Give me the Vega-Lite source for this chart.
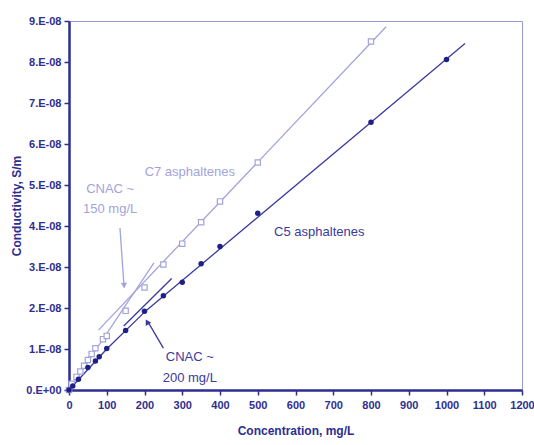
{
  "$schema": "https://vega.github.io/schema/vega-lite/v6.json",
  "width": 453,
  "height": 369,
  "autosize": {"type": "none"},
  "padding": {"left": 69, "top": 21, "right": 12, "bottom": 55},
  "background": "white",
  "config": {
    "view": {"stroke": "#9a9ad8", "strokeWidth": 1},
    "font": "Liberation Sans"
  },
  "datasets": {
    "pts": [
      {"series": "C5", "x": 0, "y": 0},
      {"series": "C5", "x": 10, "y": 0.1e-8},
      {"series": "C5", "x": 25, "y": 0.26e-8},
      {"series": "C5", "x": 50, "y": 0.55e-8},
      {"series": "C5", "x": 70, "y": 0.71e-8},
      {"series": "C5", "x": 80, "y": 0.81e-8},
      {"series": "C5", "x": 100, "y": 1.01e-8},
      {"series": "C5", "x": 150, "y": 1.45e-8},
      {"series": "C5", "x": 200, "y": 1.92e-8},
      {"series": "C5", "x": 250, "y": 2.30e-8},
      {"series": "C5", "x": 300, "y": 2.63e-8},
      {"series": "C5", "x": 350, "y": 3.08e-8},
      {"series": "C5", "x": 400, "y": 3.50e-8},
      {"series": "C5", "x": 500, "y": 4.31e-8},
      {"series": "C5", "x": 800, "y": 6.53e-8},
      {"series": "C5", "x": 1000, "y": 8.06e-8},
      {"series": "C7", "x": 0, "y": 0},
      {"series": "C7", "x": 7, "y": 0.15e-8},
      {"series": "C7", "x": 20, "y": 0.32e-8},
      {"series": "C7", "x": 30, "y": 0.45e-8},
      {"series": "C7", "x": 40, "y": 0.59e-8},
      {"series": "C7", "x": 50, "y": 0.73e-8},
      {"series": "C7", "x": 60, "y": 0.88e-8},
      {"series": "C7", "x": 70, "y": 1.02e-8},
      {"series": "C7", "x": 90, "y": 1.24e-8},
      {"series": "C7", "x": 100, "y": 1.32e-8},
      {"series": "C7", "x": 150, "y": 1.93e-8},
      {"series": "C7", "x": 200, "y": 2.50e-8},
      {"series": "C7", "x": 250, "y": 3.06e-8},
      {"series": "C7", "x": 300, "y": 3.57e-8},
      {"series": "C7", "x": 350, "y": 4.09e-8},
      {"series": "C7", "x": 400, "y": 4.60e-8},
      {"series": "C7", "x": 500, "y": 5.55e-8},
      {"series": "C7", "x": 800, "y": 8.50e-8}
    ],
    "segs": [
      {"series": "C7", "x": 0, "y": 0, "x2": 225, "y2": 3.1e-8},
      {"series": "C7", "x": 78, "y": 1.46e-8, "x2": 840, "y2": 8.86e-8},
      {"series": "C5", "x": 0, "y": 0, "x2": 100, "y2": 1.0e-8},
      {"series": "C5", "x": 100, "y": 1.0e-8, "x2": 200, "y2": 1.9e-8},
      {"series": "C5", "x": 200, "y": 1.9e-8, "x2": 1049, "y2": 8.45e-8},
      {"series": "C5", "x": 145, "y": 1.56e-8, "x2": 272, "y2": 2.72e-8},
      {"series": "C7", "x": 135, "y": 3.95e-8, "x2": 146, "y2": 2.5e-8},
      {"series": "C5", "x": 250, "y": 1.02e-8, "x2": 208, "y2": 1.68e-8}
    ],
    "heads": [
      {"series": "C7", "x": 146, "y": 2.55e-8, "angle": 176},
      {"series": "C5", "x": 207, "y": 1.66e-8, "angle": 330}
    ],
    "labels": [
      {"series": "C7", "text": "C7 asphaltenes", "x": 320, "y": 5.32e-8},
      {"series": "C5", "text": "C5 asphaltenes", "x": 663, "y": 3.85e-8},
      {"series": "C7", "text": "CNAC ~", "x": 109, "y": 4.9e-8},
      {"series": "C7", "text": "150 mg/L", "x": 109, "y": 4.41e-8},
      {"series": "C5", "text": "CNAC ~", "x": 320, "y": 0.8e-8},
      {"series": "C5", "text": "200 mg/L", "x": 320, "y": 0.29e-8}
    ]
  },
  "encoding": {
    "x": {"field": "x", "type": "quantitative", "scale": {"domain": [0, 1200], "nice": false},
      "axis": {"values": [0,100,200,300,400,500,600,700,800,900,1000,1100,1200], "format": "d", "labelOverlap": false, "labelFlush": false, "title": "Concentration, mg/L",
        "grid": false, "domainColor": "#2e2e91", "domainWidth": 2.5, "tickColor": "#2e2e91", "tickWidth": 1.5, "tickSize": 5,
        "labelColor": "#2e2e91", "labelFontSize": 11, "labelFontWeight": "bold", "labelPadding": 4,
        "titleColor": "#2e2e91", "titleFontSize": 12, "titleFontWeight": "bold", "titlePadding": 15}},
    "y": {"field": "y", "type": "quantitative", "scale": {"domain": [0, 9e-8], "nice": false},
      "axis": {"values": [0,1e-8,2e-8,3e-8,4e-8,5e-8,6e-8,7e-8,8e-8,9e-8], "title": "Conductivity, S/m", "labelOverlap": false,
        "labelExpr": "datum.value == 0 ? '0.E+00' : format(datum.value*1e8, '.0f') + '.E-08'",
        "grid": false, "domainColor": "#2e2e91", "domainWidth": 2.5, "tickColor": "#2e2e91", "tickWidth": 1.5, "tickSize": 5,
        "labelColor": "#2e2e91", "labelFontSize": 11, "labelFontWeight": "bold", "labelPadding": 3,
        "titleColor": "#2e2e91", "titleFontSize": 12, "titleFontWeight": "bold", "titlePadding": 2}},
    "color": {"field": "series", "type": "nominal", "scale": {"domain": ["C5", "C7"], "range": ["#3a3a9e", "#a3a3dc"]}, "legend": null}
  },
  "layer": [
    {
      "data": {"name": "segs"},
      "mark": {"type": "rule", "strokeWidth": 1.3},
      "encoding": {
        "x2": {"field": "x2"},
        "y2": {"field": "y2"}
      }
    },
    {
      "data": {"name": "heads"},
      "mark": {"type": "point", "shape": "triangle-up", "filled": true, "size": 40, "opacity": 1},
      "encoding": {
        "angle": {"field": "angle", "type": "quantitative", "scale": null}
      }
    },
    {
      "data": {"name": "pts"},
      "transform": [{"filter": "datum.series == 'C7'"}],
      "mark": {"type": "point", "shape": "square", "filled": false, "fill": "white", "size": 28, "strokeWidth": 1.2, "opacity": 1}
    },
    {
      "data": {"name": "pts"},
      "transform": [{"filter": "datum.series == 'C5'"}],
      "mark": {"type": "point", "shape": "circle", "filled": true, "size": 30, "opacity": 1},
      "encoding": {
        "color": {"value": "#1f1f85"}
      }
    },
    {
      "data": {"name": "labels"},
      "mark": {"type": "text", "fontSize": 13, "baseline": "middle", "align": "center"},
      "encoding": {
        "text": {"field": "text"}
      }
    }
  ]
}
